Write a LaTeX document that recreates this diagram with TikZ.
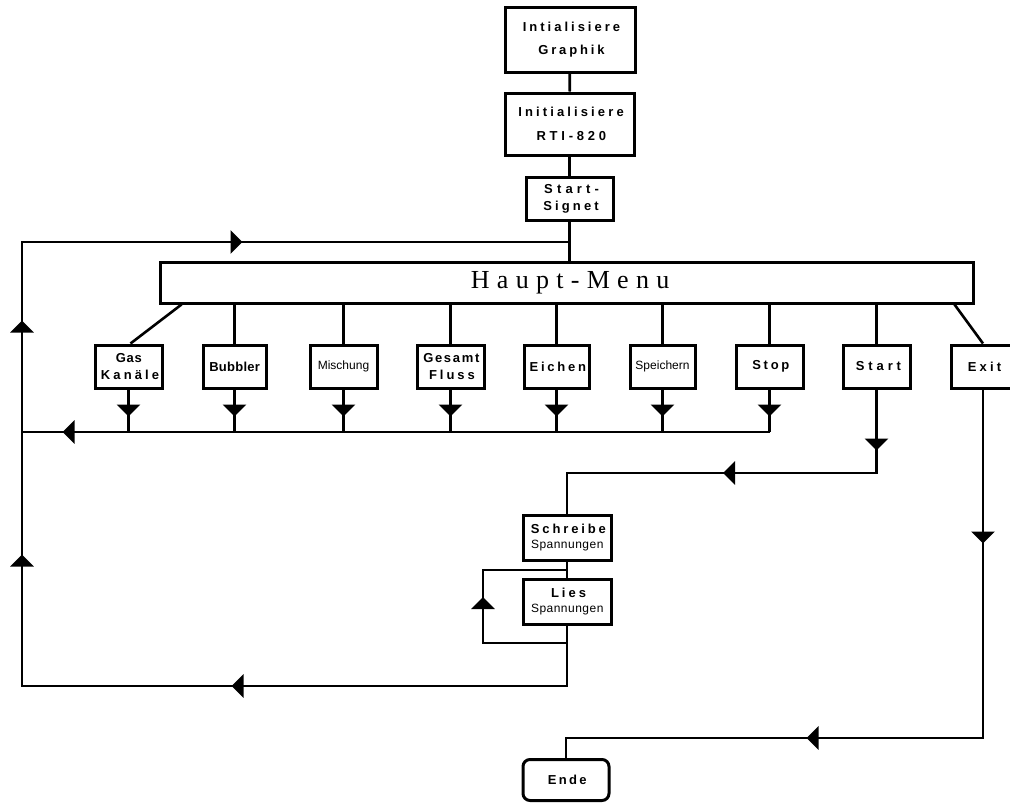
\documentclass[tikz,border=0pt]{standalone}
\usepackage{fontspec}
\usetikzlibrary{arrows.meta,decorations.markings}
\newfontfamily\labfont{Liberation Sans}
\newfontfamily\hmfont[LetterSpace=28]{Liberation Serif}
\newcommand\LS[2]{{\addfontfeature{LetterSpace=#1}#2\kern-\dimexpr\fontdimen6\font*#1/100\relax}}
\newcommand\thin[1]{{\mdseries\fontsize{12pt}{15pt}\selectfont #1}}
\tikzset{
  x=1pt, y=-1pt,
  box/.style={draw, line width=3pt, inner sep=0pt, align=center,
    font=\labfont\bfseries\fontsize{13pt}{17pt}\selectfont},
  item/.style={box, minimum height=43pt},
  wire/.style={line width=2.6pt},
  ar/.style={postaction={decorate, decoration={markings,
    mark=at position #1 with {\arrow{Triangle[width=23pt,length=12pt]}}}}}
}
\begin{document}
\begin{tikzpicture}
\fill[white] (0,0) rectangle (1010,804);
\useasboundingbox (0,0) rectangle (1010,804);
% top chain
\node[box, minimum width=130pt, minimum height=65pt,
  font=\labfont\bfseries\fontsize{13pt}{23pt}\selectfont] (g1) at (570,39.5)
  {\LS{23}{Intialisiere}\\\LS{22}{Graphik}};
\node[box, minimum width=129pt, minimum height=62pt,
  font=\labfont\bfseries\fontsize{13pt}{24pt}\selectfont] (g2) at (569.5,124)
  {\LS{24}{Initialisiere}\\\LS{29}{RTI-820}};
\node[box, minimum width=87pt, minimum height=43pt,
  font=\labfont\bfseries\fontsize{13pt}{17pt}\selectfont] (g3) at (569.5,198.5)
  {\LS{32}{Start-}\\\LS{24}{Signet}};
% main menu
\node[draw, line width=3pt, inner sep=0pt, minimum width=813pt, minimum height=41pt,
  font=\hmfont\fontsize{26pt}{30pt}\selectfont] (hm) at (566.5,282.5)
  {Haupt-Menu\kern-7.3pt};
% menu items
\node[item, minimum width=67pt] (gas) at (128.5,366.5) {\LS{6}{Gas}\\\LS{24}{Kanäle}};
\node[item, minimum width=63pt] (bub) at (234.5,366.5) {\LS{2}{Bubbler}};
\node[item, minimum width=67pt] (mis) at (343.5,366.5) {\thin{Mischung}};
\node[item, minimum width=67pt] (ges) at (450.5,366.5) {\LS{13}{Gesamt}\\\LS{23}{Fluss}};
\node[item, minimum width=65pt] (eic) at (556.5,366.5) {\LS{21}{Eichen}};
\node[item, minimum width=65pt] (spe) at (662.5,366.5) {\thin{Speichern}};
\node[item, minimum width=67pt] (sto) at (769.5,366.5) {\LS{21}{Stop}};
\node[item, minimum width=67pt] (sta) at (876.5,366.5) {\LS{30}{Start}};
\node[item, minimum width=64pt] (exi) at (983,366.5) {\LS{24}{Exit}};
% measuring
\node[box, minimum width=88pt, minimum height=45pt,
  font=\labfont\bfseries\fontsize{13pt}{15pt}\selectfont] (sch) at (567,537.5)
  {\LS{22}{Schreibe}\\\thin{\LS{4}{Spannungen}}};
\node[box, minimum width=88pt, minimum height=45pt,
  font=\labfont\bfseries\fontsize{13pt}{15pt}\selectfont] (lie) at (567,601.5)
  {\LS{23}{Lies}\\\thin{\LS{4}{Spannungen}}};
\node[box, rounded corners=7pt, minimum width=86pt, minimum height=41pt] (end) at (566,780)
  {\LS{18}{Ende}};
% coordinates
\coordinate (tl) at (22,242);
\coordinate (bl) at (22,432);
\coordinate (ll) at (22,686);
% connectors top
\draw[wire] (g1) -- (g2);
\draw[wire] (g2) -- (g3);
\draw[wire] (g3.south) -- (g3.south |- hm.north);
% menu to items
\foreach \n in {bub,mis,ges,eic,spe,sto,sta}
  \draw[wire] (hm.south -| \n.north) -- (\n.north);
\draw[wire] ([xshift=23pt]hm.south west) -- ([xshift=2pt]gas.north);
\draw[wire] ([xshift=-20pt]hm.south east) -- (exi.north);
% items down to bus
\foreach \n in {gas,bub,mis,ges,eic,spe,sto}
  \draw[wire, ar=27pt] (\n.south) -- (\n.south |- bl);
% bus back to top
\draw[wire, ar=707pt, ar=859pt, ar=1158pt]
  (sto.south |- bl) -- (bl) -- (tl) -- (g3.south |- tl);
% start path
\draw[wire, ar=61pt, ar=237pt]
  (sta.south) -- (sta.south |- 0,473) -- (sch.north |- 0,473) -- (sch.north);
\draw[wire] (sch) -- (lie);
% read loop
\draw[wire, ar=130pt] (lie.south |- 0,643) -- (483,643) -- (483,570) -- (lie.north |- 0,570);
% back to menu
\draw[wire, ar=396pt, ar=737pt] (lie.south) -- (lie.south |- ll) -- (ll) -- (bl);
% exit
\draw[wire, ar=154pt, ar=525pt]
  (exi.south) -- (exi.south |- 0,738) -- (end.north |- 0,738) -- (end.north);
\end{tikzpicture}
\end{document}
